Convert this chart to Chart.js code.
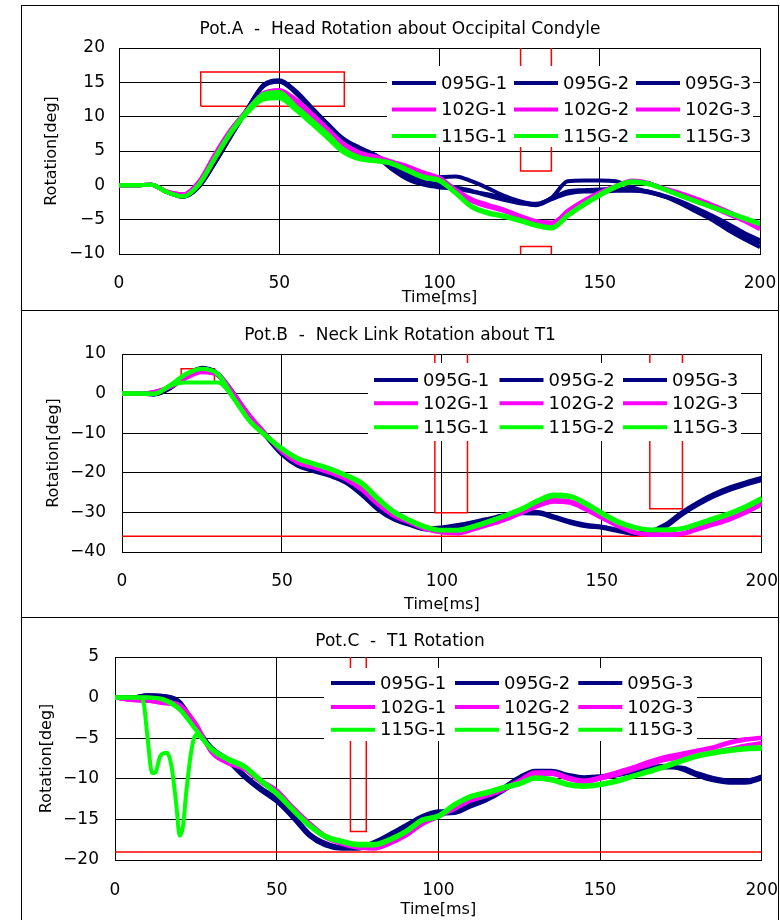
<!DOCTYPE html>
<html>
<head>
<meta charset="utf-8">
<script src="https://cdn.jsdelivr.net/npm/chart.js"></script>
<style>
  body { margin: 0; background: #fff; width: 780px; height: 920px; overflow: hidden; position: relative; }
  .panel { position: absolute; left: 21px; width: 758px; border: 1px solid #000; box-sizing: border-box; background: #fff; }
  .panel canvas { display: block; }
</style>
</head>
<body>
<div class="panel" style="top:5px;height:306px"><canvas id="potA" width="756" height="304"></canvas></div>
<div class="panel" style="top:310px;height:308px"><canvas id="potB" width="756" height="306"></canvas></div>
<div class="panel" style="top:617px;height:310px"><canvas id="potC" width="756" height="308"></canvas></div>
<script>
// time axis shared by most series [ms]
const timeMs = [0,5,10,15,20,25,30,35,40,45,50,55,60,65,70,75,80,85,90,95,100,
  105,110,115,120,125,130,135,140,145,150,155,160,165,170,175,180,185,190,195,200];

const seriesLabels = ['095G-1','095G-2','095G-3','102G-1','102G-2','102G-3','115G-1','115G-2','115G-3'];
const seriesColors = ['#000080','#000080','#000080','#ff00ff','#ff00ff','#ff00ff','#00ff00','#00ff00','#00ff00'];

// Pot.A  head rotation [deg]
const a095_1 = [0,0,0.1,-1.0,-1.6,-0.1,3.4,7.3,11.1,14.4,15.2,13.7,11.3,8.9,6.7,5.4,4.4,3.0,1.8,1.0,1.2,1.3,0.6,-0.4,-1.5,-2.3,-2.7,-1.8,0.6,0.7,0.7,0.6,-0.3,-0.9,-1.6,-2.4,-3.6,-4.8,-6.0,-7.3,-8.5];
const a095_2 = [0,0,0.1,-1.0,-1.7,-0.2,3.3,7.2,11.0,14.5,15.1,13.5,11.1,8.7,6.5,5.3,4.3,2.4,0.9,0.1,-0.3,-0.5,-0.9,-1.3,-1.8,-2.4,-2.9,-2.0,-1.2,-0.9,-0.9,-0.8,-0.8,-1.0,-1.6,-2.6,-3.8,-5.0,-6.5,-7.8,-9.0];
const a095_3 = [0,0,0.1,-1.0,-1.6,-0.1,3.4,7.3,11.1,14.6,15.3,13.8,11.4,9.0,6.8,5.5,4.4,2.7,1.3,0.5,0.2,-0.3,-0.8,-1.5,-2.1,-2.6,-2.8,-1.9,-0.9,-0.7,-0.6,-0.5,-0.6,-0.9,-1.5,-2.3,-3.3,-4.4,-5.6,-6.9,-8.0];
const a102_1 = [0,0,0.1,-0.9,-1.3,0.6,4.6,8.2,11.0,13.4,13.9,12.4,10.2,8.0,5.8,4.6,4.1,3.4,2.7,1.7,1.0,-0.8,-2.2,-3.0,-3.6,-4.5,-5.4,-5.5,-3.8,-2.3,-1.2,-0.2,0.6,0.3,-0.5,-1.3,-2.1,-3.0,-4.0,-5.0,-6.2];
const a102_2 = [0,0,0.1,-1.0,-1.4,0.4,4.4,8.0,10.9,13.3,13.8,12.6,10.5,8.3,6.1,4.8,4.2,3.5,2.8,1.9,1.1,-0.6,-2.0,-2.8,-3.5,-4.4,-5.2,-5.4,-3.9,-2.5,-1.3,-0.3,0.5,0.3,-0.4,-1.1,-1.9,-2.8,-3.8,-4.9,-6.0];
const a102_3 = [0,0,0.1,-0.9,-1.3,0.5,4.5,8.1,10.9,13.2,13.6,12.2,10.0,7.8,5.7,4.5,4.0,3.3,2.6,1.6,0.9,-0.9,-2.3,-3.1,-3.7,-4.6,-5.5,-5.6,-3.7,-2.2,-1.0,-0.1,0.7,0.4,-0.6,-1.4,-2.3,-3.2,-4.2,-5.2,-6.4];
const a115_1 = [0,0,0.1,-1.0,-1.6,0.2,4.1,7.9,10.9,13.3,13.6,11.6,9.6,7.5,5.3,4.1,3.7,3.3,2.3,1.3,0.8,-1.0,-3.1,-4.0,-4.5,-5.1,-5.8,-6.2,-4.4,-2.8,-1.4,-0.2,0.5,0.2,-0.5,-1.5,-2.4,-3.2,-4.0,-4.8,-5.6];
const a115_2 = [0,0,0.1,-1.0,-1.6,0.1,3.9,7.6,10.5,12.5,12.7,11.0,9.0,6.9,4.8,3.8,3.5,3.1,2.1,1.1,0.6,-1.2,-3.2,-4.1,-4.6,-5.2,-5.9,-6.3,-4.5,-2.9,-1.5,-0.3,0.4,0.2,-0.6,-1.5,-2.3,-3.1,-3.9,-4.7,-5.5];
const a115_3 = [0,0,0.1,-1.0,-1.6,0.2,4.0,7.8,10.7,12.9,13.1,11.3,9.2,7.1,5.0,3.9,3.6,3.2,2.2,1.2,0.7,-1.1,-3.0,-3.9,-4.4,-5.0,-5.7,-6.1,-4.3,-2.7,-1.3,-0.1,0.6,0.3,-0.5,-1.4,-2.3,-3.2,-4.0,-4.9,-5.7];

// Pot.B  neck link rotation [deg]
const b095_1 = [0,0,-0.2,1.4,4.4,6.3,4.8,-0.2,-6.2,-10.7,-15.2,-18.1,-19.4,-20.6,-22.3,-25.3,-29.1,-31.6,-33.0,-34.2,-34.0,-33.4,-32.6,-31.7,-30.8,-30.0,-30.1,-31.2,-32.4,-33.3,-33.7,-34.5,-35.3,-35.0,-33.3,-30.3,-27.8,-25.7,-24.0,-22.7,-21.5];
const b095_2 = [0,0,-0.1,1.5,4.6,6.5,5.0,0.0,-6.0,-10.6,-15.0,-17.9,-19.2,-20.4,-22.0,-25.0,-28.8,-31.4,-32.9,-34.0,-33.8,-33.2,-32.4,-31.5,-30.6,-29.8,-29.9,-31.0,-32.2,-33.1,-33.6,-34.4,-35.2,-34.8,-33.0,-30.0,-27.5,-25.4,-23.7,-22.4,-21.2];
const b095_3 = [0,0,-0.2,1.3,4.3,6.2,4.6,-0.4,-6.4,-10.9,-15.4,-18.3,-19.6,-20.8,-22.5,-25.6,-29.3,-31.8,-33.2,-34.3,-34.1,-33.5,-32.7,-31.8,-31.0,-30.2,-30.3,-31.4,-32.6,-33.5,-33.9,-34.7,-35.4,-35.2,-33.6,-30.6,-28.1,-26.0,-24.3,-23.0,-21.8];
const b102_1 = [0,0,0.4,1.7,4.0,5.5,4.8,-0.2,-5.7,-10.3,-14.6,-17.3,-18.5,-19.8,-21.5,-24.0,-27.8,-30.7,-32.4,-34.1,-35.0,-35.2,-34.1,-32.9,-31.6,-29.9,-28.2,-27.1,-27.4,-29.1,-31.2,-33.3,-35.0,-35.6,-35.6,-35.4,-34.1,-32.9,-31.6,-29.9,-27.8];
const b102_2 = [0,0,0.3,1.6,3.9,5.4,4.7,-0.3,-5.8,-10.4,-14.7,-17.5,-18.7,-20.0,-21.7,-24.3,-28.0,-30.9,-32.6,-34.3,-35.1,-35.3,-34.3,-33.1,-31.8,-30.1,-28.4,-27.3,-27.6,-29.3,-31.4,-33.5,-35.1,-35.7,-35.7,-35.5,-34.3,-33.1,-31.8,-30.1,-28.0];
const b102_3 = [0,0,0.4,1.8,4.1,5.6,4.9,-0.1,-5.6,-10.2,-14.5,-17.2,-18.4,-19.7,-21.3,-23.8,-27.6,-30.5,-32.3,-34.0,-34.9,-35.1,-34.0,-32.8,-31.5,-29.8,-28.0,-26.9,-27.2,-28.9,-31.0,-33.1,-34.9,-35.5,-35.5,-35.3,-34.0,-32.8,-31.5,-29.7,-27.6];
const b115_1 = [0,0,-0.1,2.1,5.0,6.3,5.0,-1.2,-7.0,-10.6,-13.9,-16.4,-17.7,-19.0,-20.6,-22.7,-26.5,-29.9,-32.0,-33.7,-34.5,-34.5,-33.5,-32.2,-30.7,-29.1,-27.1,-25.7,-25.9,-27.8,-30.2,-32.4,-33.7,-34.4,-34.4,-34.1,-32.9,-31.6,-30.3,-28.6,-26.5];
const b115_2 = [0,0,0,2.0,4.8,6.2,4.8,-1.4,-7.1,-10.8,-14.1,-16.6,-17.9,-19.2,-20.8,-23.0,-26.8,-30.1,-32.2,-33.9,-34.6,-34.6,-33.7,-32.4,-30.9,-29.3,-27.3,-25.9,-26.1,-28.0,-30.4,-32.6,-33.9,-34.5,-34.5,-34.2,-33.1,-31.8,-30.5,-28.8,-26.8];
const b115_3 = [0,0,-0.1,2.0,2.8,2.8,2.8,-1.3,-6.9,-10.5,-13.8,-16.3,-17.6,-18.9,-20.5,-22.5,-26.3,-29.7,-31.9,-33.6,-34.4,-34.4,-33.4,-32.1,-30.6,-29.0,-26.9,-25.5,-25.8,-27.6,-30.0,-32.2,-33.6,-34.3,-34.3,-34.0,-32.8,-31.4,-30.1,-28.4,-26.3];

// Pot.C  T1 rotation [deg]
const c095_1 = [0,0,0.3,0.2,-0.6,-3.7,-6.4,-7.8,-9.7,-11.3,-12.6,-14.6,-16.9,-18.1,-18.5,-18.5,-17.9,-16.9,-15.9,-14.8,-14.2,-14.1,-13.2,-12.4,-11.3,-9.9,-9.1,-9.2,-9.7,-9.9,-9.8,-9.5,-9.1,-8.7,-8.5,-8.7,-9.5,-10.1,-10.3,-10.3,-9.7];
const c095_2 = [0,0,0.3,0.2,-0.5,-3.5,-6.2,-7.6,-9.5,-11.1,-12.4,-14.4,-16.7,-17.9,-18.4,-18.4,-17.8,-16.8,-15.7,-14.6,-14.0,-13.9,-13.0,-12.2,-11.1,-9.8,-9.0,-9.0,-9.5,-9.8,-9.7,-9.4,-9.0,-8.6,-8.4,-8.8,-9.6,-10.2,-10.5,-10.5,-10.0];
const c095_3 = [0,0,0.2,0.1,-0.7,-3.8,-6.5,-7.9,-9.8,-11.4,-12.8,-14.8,-17.0,-18.2,-18.6,-18.6,-18.0,-17.0,-16.0,-14.9,-14.3,-14.2,-13.4,-12.6,-11.5,-10.1,-9.3,-9.3,-9.8,-10.0,-9.9,-9.6,-9.2,-8.8,-8.6,-8.6,-9.3,-9.9,-10.2,-10.2,-9.8];
const c102_1 = [0,-0.3,-0.4,-0.6,-1.0,-3.3,-6.8,-8.0,-8.7,-10.3,-11.5,-13.6,-15.5,-17.1,-17.9,-18.4,-18.5,-17.9,-16.9,-15.5,-14.6,-13.6,-12.6,-12.0,-11.3,-10.3,-9.3,-9.3,-9.9,-10.3,-9.9,-9.3,-8.7,-8.0,-7.4,-7.0,-6.6,-6.2,-5.6,-5.2,-4.9];
const c102_2 = [0,-0.3,-0.4,-0.7,-1.1,-3.4,-6.7,-7.9,-8.8,-10.4,-11.6,-13.7,-15.6,-17.2,-18.0,-18.5,-18.6,-18.0,-17.0,-15.6,-14.7,-13.7,-12.7,-12.1,-11.4,-10.4,-9.4,-9.4,-10.0,-10.4,-10.0,-9.5,-8.9,-8.3,-7.7,-7.4,-7.1,-6.7,-6.3,-5.9,-5.6];
const c102_3 = [0,-0.2,-0.4,-0.5,-0.9,-3.2,-6.8,-8.1,-8.8,-10.2,-11.4,-13.5,-15.4,-17.0,-17.8,-18.3,-18.4,-17.8,-16.8,-15.4,-14.5,-13.5,-12.5,-11.9,-11.2,-10.2,-9.2,-9.2,-9.8,-10.2,-9.8,-9.2,-8.6,-7.9,-7.3,-6.9,-6.5,-6.1,-5.5,-5.1,-5.0];
// 115G-1 in Pot.C has its own finer time base for the early dip
const timeC115_1 = [0,5,8,9,10,11.5,12.5,14,16,17.5,19,20,21,22,23.5,25,30,35,40,45,50,55,60,65,70,75,80,
  85,90,95,100,105,110,115,120,125,130,135,140,145,150,155,160,165,170,175,180,185,190,195,200];
const c115_1 = [0,0,0,-1.0,-4.7,-9.3,-9.2,-7.2,-6.8,-8.5,-13.4,-17.0,-15.9,-11.8,-6.8,-4.6,-6.3,-7.5,-8.4,-10.1,-11.7,-13.7,-15.6,-17.0,-17.6,-18.0,-18.0,
  -17.4,-16.4,-15.0,-14.5,-13.1,-12.1,-11.6,-11.0,-10.5,-9.8,-10.0,-10.6,-10.8,-10.6,-10.2,-9.6,-9.0,-8.4,-7.7,-7.1,-6.7,-6.4,-6.2,-6.1];
const c115_2 = [0,0,0,-0.2,-1.4,-3.9,-6.4,-7.6,-8.5,-10.2,-11.8,-13.8,-15.7,-17.1,-17.7,-18.1,-18.1,-17.5,-16.5,-15.1,-14.6,-13.2,-12.2,-11.7,-11.1,-10.6,-9.9,-10.1,-10.7,-10.9,-10.7,-10.3,-9.7,-9.1,-8.5,-7.8,-7.2,-6.8,-6.5,-6.3,-6.2];
const c115_3 = [0,0,0,-0.3,-1.5,-4.0,-6.5,-7.7,-8.6,-10.3,-11.9,-13.9,-15.8,-17.2,-17.8,-18.2,-18.2,-17.6,-16.6,-15.2,-14.7,-13.3,-12.3,-11.8,-11.2,-10.7,-10.0,-10.2,-10.8,-11.0,-10.8,-10.4,-9.8,-9.2,-8.6,-7.9,-7.3,-6.9,-6.6,-6.4,-6.3];

// red corridor lines (time, deg)
const corrA1x = [25.5,70.3,70.3,25.5,25.5],   corrA1y = [11.5,11.5,16.5,16.5,11.5];
const corrA2x = [125.3,125.3,134.9,134.9],    corrA2y = [20,2.1,2.1,20];
const corrA3x = [125.3,125.3,134.9,134.9],    corrA3y = [-10,-8.9,-8.9,-10];
const corrB1x = [18.5,18.5,28.9,28.9],        corrB1y = [2.8,6.3,6.3,2.8];
const corrB2x = [97.8,97.8,108,108],          corrB2y = [10,-30.1,-30.1,10];
const corrB3x = [165,165,175.2,175.2],        corrB3y = [10,-29.1,-29.1,10];
const corrB4x = [0,200],                      corrB4y = [-36,-36];
const corrC1x = [72.8,72.8,77.7,77.7],        corrC1y = [5,-16.5,-16.5,5];
const corrC2x = [0,200],                      corrC2y = [-19,-19];

Chart.defaults.font.family = '"DejaVu Sans", sans-serif';
Chart.defaults.color = '#000';

function pts(xs, ys) {
  return xs.map((x, i) => ({ x: x, y: ys[i] }));
}

function curveSets(valueLists, timeLists) {
  return valueLists.map((vals, i) => ({
    label: seriesLabels[i],
    data: pts(timeLists[i], vals),
    borderColor: seriesColors[i],
    borderWidth: 4,
    pointRadius: 0,
    cubicInterpolationMode: 'monotone',
    order: 3 - Math.floor(i / 3)
  }));
}

function redSets(xs, ys) {
  return xs.map((x, i) => ({
    label: '',
    corridor: true,
    data: pts(x, ys[i]),
    borderColor: '#ff0000',
    borderWidth: 1.5,
    pointRadius: 0,
    tension: 0,
    order: 5
  }));
}

// legend drawn inside the plot with a white box, 3 x 3 items
const boxLegend = {
  id: 'boxLegend',
  afterDatasetsDraw(chart, args, opts) {
    const ctx = chart.ctx;
    const sets = chart.data.datasets.filter(d => !d.corridor);
    ctx.save();
    ctx.fillStyle = '#fff';
    ctx.fillRect(opts.box[0], opts.box[1], opts.box[2] - opts.box[0], opts.box[3] - opts.box[1]);
    ctx.font = '18px "DejaVu Sans"';
    ctx.textBaseline = 'middle';
    ctx.lineWidth = 4;
    sets.forEach((d, i) => {
      const x = opts.cols[i % 3], y = opts.rows[Math.floor(i / 3)];
      ctx.strokeStyle = d.borderColor;
      ctx.beginPath();
      ctx.moveTo(x, y);
      ctx.lineTo(x + 44, y);
      ctx.stroke();
      ctx.fillStyle = '#000';
      ctx.fillText(d.label, x + 49, y + 1);
    });
    ctx.restore();
  }
};

function makeChart(id, title, datasets, yMin, yMax, yStep, L) {
  return new Chart(document.getElementById(id), {
    type: 'line',
    data: { datasets: datasets },
    plugins: [boxLegend],
    options: {
      responsive: false,
      animation: false,
      events: [],
      layout: { padding: { left: L.side, right: L.side, top: 0, bottom: 0 } },
      plugins: {
        legend: { display: false },
        tooltip: { enabled: false },
        title: {
          display: true, text: title, color: '#000',
          font: { size: 17, weight: 'normal' },
          padding: { top: L.titleTop, bottom: L.titleBottom }
        },
        boxLegend: L.legend
      },
      scales: {
        x: {
          type: 'linear', min: 0, max: 200,
          afterFit: s => { s.height = L.xHeight; },
          // vertical gap under the axis comes from an invisible tick mark,
          // so it does not eat into the right-hand margin
          ticks: { stepSize: 50, padding: 0, maxRotation: 0, font: { size: 17 }, color: '#000' },
          grid: { color: '#000', lineWidth: 1, drawTicks: true, tickLength: L.xTickPad, tickColor: 'rgba(0,0,0,0)' },
          border: { color: '#000', width: 1 },
          title: { display: true, text: 'Time[ms]', color: '#000', font: { size: 16 }, padding: { top: 0, bottom: L.xTitlePad } }
        },
        y: {
          min: yMin, max: yMax,
          afterFit: s => { s.width = L.yWidth; },
          ticks: {
            stepSize: yStep, padding: L.yTickPad, font: { size: 17 }, color: '#000',
            callback: v => String(v).replace('-', '\u2212')
          },
          grid: { color: '#000', lineWidth: 1, drawTicks: false },
          border: { color: '#000', width: 1 },
          title: { display: true, text: 'Rotation[deg]', color: '#000', font: { size: 16 }, padding: { top: L.yTitlePad, bottom: 0 } }
        }
      }
    }
  });
}

makeChart('potA', 'Pot.A  -  Head Rotation about Occipital Condyle',
  curveSets([a095_1,a095_2,a095_3,a102_1,a102_2,a102_3,a115_1,a115_2,a115_3], Array(9).fill(timeMs))
    .concat(redSets([corrA1x,corrA2x,corrA3x], [corrA1y,corrA2y,corrA3y])),
  -10, 20, 5,
  { side: 18, yWidth: 79, xHeight: 56, titleTop: 13.5, titleBottom: 8.1, xTickPad: 19.5, yTickPad: 14,
    xTitlePad: 2.4, yTitlePad: 2.1,
    legend: { box: [365, 60, 731, 141], cols: [370, 492, 614], rows: [77, 103.5, 130] } });

makeChart('potB', 'Pot.B  -  Neck Link Rotation about T1',
  curveSets([b095_1,b095_2,b095_3,b102_1,b102_2,b102_3,b115_1,b115_2,b115_3], Array(9).fill(timeMs))
    .concat(redSets([corrB1x,corrB2x,corrB3x,corrB4x], [corrB1y,corrB2y,corrB3y,corrB4y])),
  -40, 10, 10,
  { side: 15, yWidth: 85, xHeight: 65, titleTop: 14.3, titleBottom: 8.3, xTickPad: 19, yTickPad: 16,
    xTitlePad: 2.4, yTitlePad: 7.4,
    legend: { box: [346, 52, 719, 130], cols: [352, 477.5, 601], rows: [69, 92.3, 116.3] } });

makeChart('potC', 'Pot.C  -  T1 Rotation',
  curveSets([c095_1,c095_2,c095_3,c102_1,c102_2,c102_3,c115_1,c115_2,c115_3],
    [timeMs,timeMs,timeMs,timeMs,timeMs,timeMs,timeC115_1,timeMs,timeMs])
    .concat(redSets([corrC1x,corrC2x], [corrC1y,corrC2y])),
  -20, 5, 5,
  { side: 15, yWidth: 78, xHeight: 66, titleTop: 13, titleBottom: 5.6, xTickPad: 20, yTickPad: 16,
    xTitlePad: 6.4, yTitlePad: 0.1,
    legend: { box: [302, 50, 675, 123], cols: [309, 433, 556.3], rows: [65, 89, 111.7] } });
</script>
</body>
</html>
